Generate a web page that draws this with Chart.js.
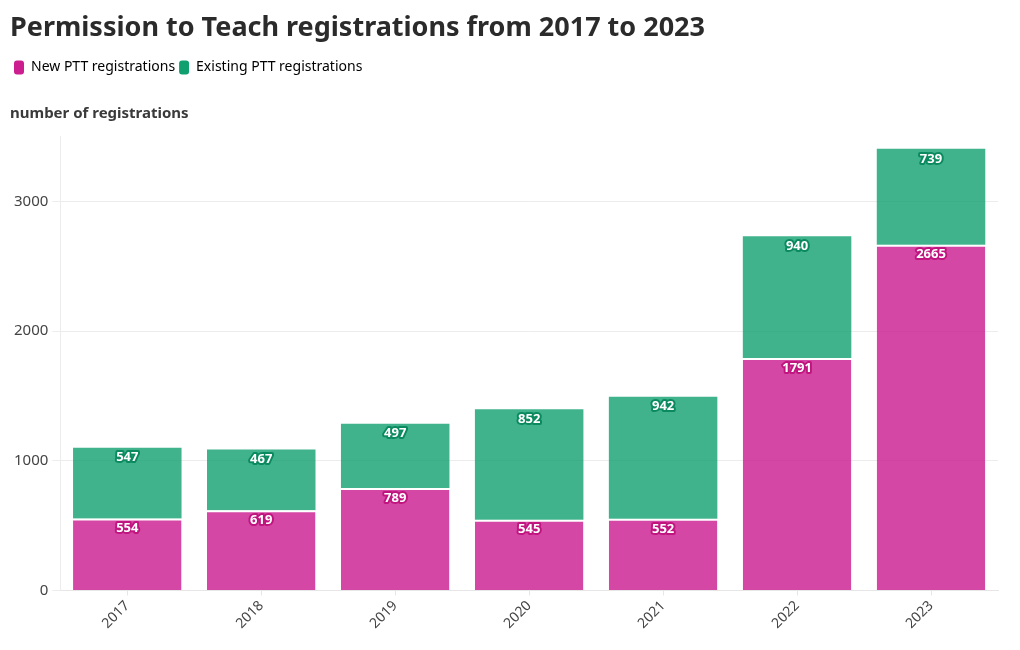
<!DOCTYPE html>
<html>
<head>
<meta charset="utf-8">
<script src="https://cdn.jsdelivr.net/npm/chart.js@4"></script>
<style>
  html, body { margin: 0; padding: 0; background: #fff; }
  #wrap { width: 1020px; height: 650px; }
</style>
</head>
<body>
<div id="wrap"><canvas id="grafico"></canvas></div>
<script>
const anios = ['2017', '2018', '2019', '2020', '2021', '2022', '2023'];
const nuevos = [554, 619, 789, 545, 552, 1791, 2665];
const existentes = [547, 467, 497, 852, 942, 940, 739];
const ticksY = [0, 1000, 2000, 3000];

const rosa = '#cc1e8f';
const verde = '#10a070';
const fuente = "'Noto Sans', sans-serif";

// etiquetas blancas con contorno del color de la barra
const etiquetas = {
  id: 'etiquetas',
  afterDatasetsDraw(chart) {
    const ctx = chart.ctx;
    ctx.save();
    ctx.font = "bold 13px " + fuente;
    ctx.textAlign = 'center';
    ctx.textBaseline = 'middle';
    ctx.lineJoin = 'round';
    chart.data.datasets.forEach((ds, i) => {
      const meta = chart.getDatasetMeta(i);
      meta.data.forEach((bar, j) => {
        const txt = String(ds.data[j]);
        const y = bar.y + 10;
        ctx.lineWidth = 4;
        ctx.strokeStyle = ds.labelStroke;
        ctx.strokeText(txt, bar.x, y);
        ctx.fillStyle = '#fff';
        ctx.fillText(txt, bar.x, y);
      });
    });
    ctx.restore();
  }
};

new Chart(document.getElementById('grafico'), {
  type: 'bar',
  data: {
    labels: anios,
    datasets: [{
      label: 'New PTT registrations',
      data: nuevos,
      backgroundColor: 'rgba(204,30,145,0.82)',
      solid: rosa,
      labelStroke: '#c0157f',
      borderColor: '#fff',
      borderWidth: { top: 2, left: 0, right: 0, bottom: 0 },
      borderSkipped: false,
      categoryPercentage: 0.81,
      barPercentage: 1
    }, {
      label: 'Existing PTT registrations',
      data: existentes,
      backgroundColor: 'rgba(16,160,112,0.8)',
      solid: verde,
      labelStroke: '#0c8a5f',
      borderColor: '#fff',
      borderWidth: 0,
      categoryPercentage: 0.81,
      barPercentage: 1
    }]
  },
  options: {
    responsive: true,
    maintainAspectRatio: false,
    animation: false,
    layout: { padding: { left: 10, right: 22, top: 4, bottom: 16 } },
    plugins: {
      title: {
        display: true,
        text: 'Permission to Teach registrations from 2017 to 2023',
        align: 'start',
        color: '#2b2b2b',
        font: { family: fuente, size: 27, weight: 'bold' },
        padding: { top: 8, bottom: 12 }
      },
      legend: {
        display: true,
        align: 'start',
        weight: 1000,
        labels: {
          color: '#333',
          font: { family: fuente, size: 14 },
          boxWidth: 10,
          boxHeight: 14,
          padding: 4,
          usePointStyle: false,
          generateLabels(chart) {
            return chart.data.datasets.map((ds, i) => ({
              text: ds.label,
              fillStyle: ds.solid,
              strokeStyle: ds.solid,
              lineWidth: 0,
              borderRadius: 3,
              datasetIndex: i
            }));
          }
        }
      },
      subtitle: {
        display: true,
        text: 'number of registrations',
        align: 'start',
        weight: 500,
        color: '#3a3a3a',
        font: { family: fuente, size: 15, weight: 'bold' },
        padding: { top: 20, bottom: 14 }
      },
      tooltip: { enabled: false }
    },
    scales: {
      x: {
        stacked: true,
        grid: { display: true, offset: false, drawOnChartArea: false, tickLength: 5, color: '#e6e6e6' },
        border: { color: '#e6e6e6' },
        ticks: {
          color: '#444',
          font: { family: fuente, size: 14 },
          maxRotation: 45,
          minRotation: 45,
          padding: 2
        }
      },
      y: {
        stacked: true,
        min: 0,
        max: 3500,
        afterBuildTicks(axis) {
          axis.ticks = ticksY.map(v => ({ value: v }));
        },
        grid: { color: '#ececec', tickLength: 8 },
        border: { display: true, color: '#ececec' },
        ticks: {
          color: '#444',
          font: { family: fuente, size: 15 },
          padding: 4,
          callback: v => String(v)
        }
      }
    }
  },
  plugins: [etiquetas]
});
</script>
</body>
</html>
